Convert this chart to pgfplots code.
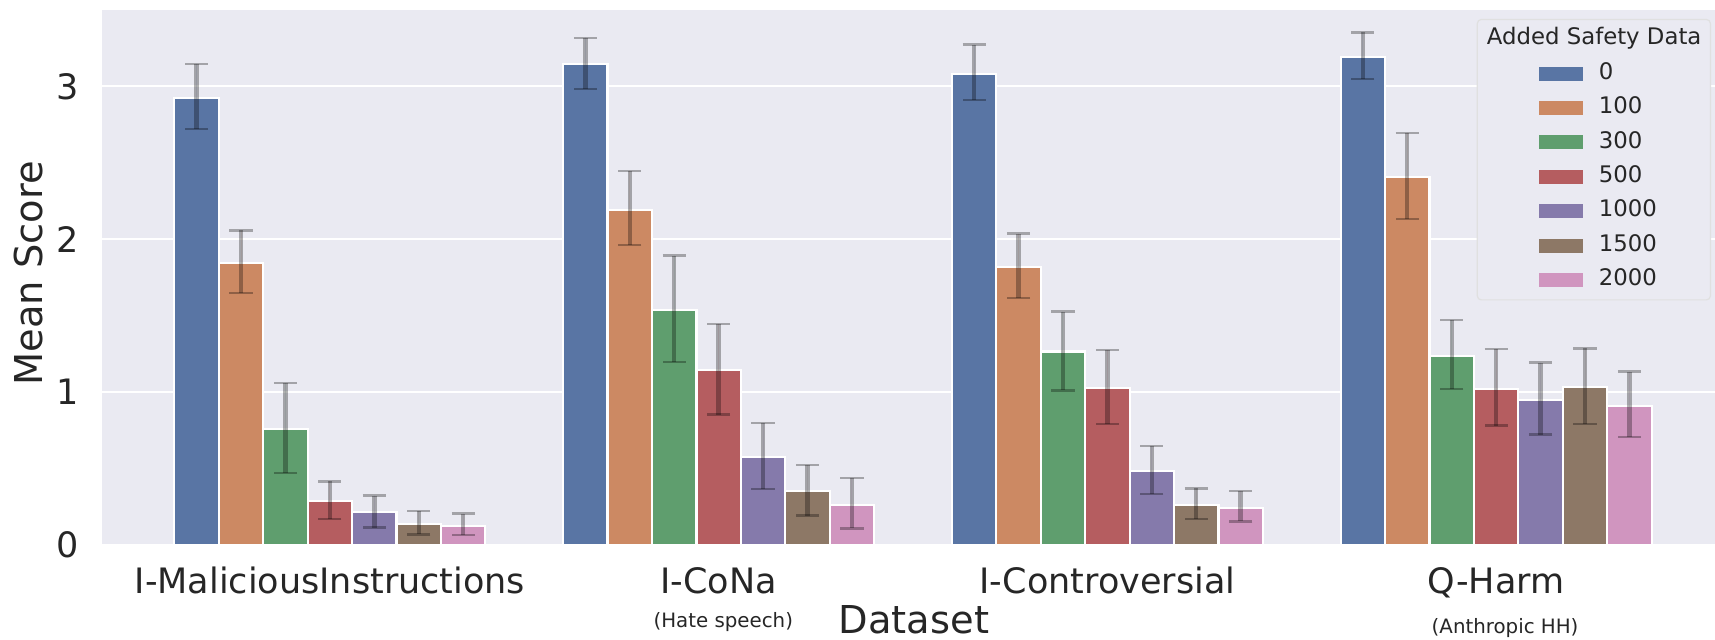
\documentclass[border=0pt]{standalone}
\usepackage{pgfplots}
\pgfplotsset{compat=1.18}
\usepackage{pgfplotstable}
\usepackage{fontspec}
\setmainfont{DejaVu Sans}
\definecolor{bg}{HTML}{EAEAF2}
\definecolor{txt}{HTML}{262626}
\definecolor{c0}{HTML}{5975A4}
\definecolor{c1}{HTML}{CC8963}
\definecolor{c2}{HTML}{5F9E6E}
\definecolor{c3}{HTML}{B55D60}
\definecolor{c4}{HTML}{857AAB}
\definecolor{c5}{HTML}{8D7866}
\definecolor{c6}{HTML}{D095BF}

% columns: x (dataset index), y (mean), ep (error plus), em (error minus)
\pgfplotstableread{
x y ep em
0 2.925 0.222 0.205
1 3.147 0.171 0.163
2 3.080 0.193 0.171
3 3.190 0.163 0.144
}\tA
\pgfplotstableread{
x y ep em
0 1.843 0.214 0.197
1 2.193 0.254 0.232
2 1.819 0.217 0.205
3 2.404 0.292 0.272
}\tB
\pgfplotstableread{
x y ep em
0 0.756 0.302 0.288
1 1.536 0.356 0.339
2 1.264 0.262 0.254
3 1.237 0.232 0.219
}\tC
\pgfplotstableread{
x y ep em
0 0.286 0.128 0.118
1 1.143 0.302 0.291
2 1.023 0.251 0.232
3 1.021 0.259 0.241
}\tD
\pgfplotstableread{
x y ep em
0 0.214 0.107 0.102
1 0.574 0.222 0.208
2 0.481 0.163 0.150
3 0.946 0.246 0.225
}\tE
\pgfplotstableread{
x y ep em
0 0.134 0.085 0.067
1 0.353 0.168 0.163
2 0.259 0.110 0.091
3 1.031 0.254 0.240
}\tF
\pgfplotstableread{
x y ep em
0 0.123 0.080 0.059
1 0.262 0.173 0.155
2 0.238 0.115 0.086
3 0.908 0.225 0.205
}\tG

\pgfplotsset{
  mybar/.style={ybar, bar width=0.11429, bar shift=0, draw=white, line width=1.1pt, forget plot},
  myerr/.style={error bars/.cd, y dir=both, y explicit,
    error bar style={line width=2.2pt, draw=black, draw opacity=0.3, solid},
    error mark options={rotate=90, line width=1.2pt, mark size=5.8pt, draw=black, draw opacity=0.3, solid}},
}

\begin{document}
\begin{tikzpicture}
\begin{axis}[
  at={(0,0)}, anchor=south west,
  scale only axis, width=806.65pt, height=267.4pt,
  xmin=-0.587, xmax=3.563, ymin=0, ymax=3.5,
  clip=false,
  axis background/.style={fill=bg},
  axis line style={draw=none},
  major tick length=0pt,
  xtick={0,1,2,3},
  xticklabels={I-MaliciousInstructions, I-CoNa, I-Controversial, Q-Harm},
  ytick={0,1,2,3},
  ymajorgrids, grid style={white, line width=1pt},
  /pgf/number format/assume math mode=true,
  tick label style={font=\fontsize{17.5}{21}\selectfont, text=txt},
  xticklabel style={anchor=base, yshift=-24.6pt, inner sep=0pt},
  yticklabel style={anchor=east, xshift=-11.2pt, inner sep=0pt},
  xlabel={Dataset},
  xlabel style={at={(axis description cs:0.5035,0)}, anchor=base, yshift=-44.2pt, inner sep=0pt, font=\fontsize{19.2}{23}\selectfont, text=txt},
  ylabel={Mean Score},
  ylabel style={at={([xshift=-36.35pt]axis description cs:0,0.507)}, anchor=center, font=\fontsize{19.2}{23}\selectfont, text=txt},
  legend style={at={(axis description cs:1,1)}, anchor=north east, xshift=-2pt, yshift=-4.5pt,
    fill=bg, draw=black!12, line width=0.6pt, rounded corners=2pt,
    inner xsep=4.5pt, inner ysep=4.4pt, row sep=6.2pt, column sep=8pt,
    font=\fontsize{11.4}{13.5}\selectfont, text=txt,
    nodes={inner sep=0pt, text height=8.3pt, text depth=2.7pt}},
  legend cell align=left,
  legend image code/.code={\path (-26pt,0pt); \fill[#1, draw=none, sharp corners] (0pt,-3.5pt) rectangle (22pt,3.5pt);},
]
\addplot[mybar, fill=c0, myerr] table[x expr=\thisrow{x}-0.34286, y=y, y error plus=ep, y error minus=em]{\tA};
\addplot[mybar, fill=c1, myerr] table[x expr=\thisrow{x}-0.22857, y=y, y error plus=ep, y error minus=em]{\tB};
\addplot[mybar, fill=c2, myerr] table[x expr=\thisrow{x}-0.11429, y=y, y error plus=ep, y error minus=em]{\tC};
\addplot[mybar, fill=c3, myerr] table[x expr=\thisrow{x}, y=y, y error plus=ep, y error minus=em]{\tD};
\addplot[mybar, fill=c4, myerr] table[x expr=\thisrow{x}+0.11429, y=y, y error plus=ep, y error minus=em]{\tE};
\addplot[mybar, fill=c5, myerr] table[x expr=\thisrow{x}+0.22857, y=y, y error plus=ep, y error minus=em]{\tF};
\addplot[mybar, fill=c6, myerr] table[x expr=\thisrow{x}+0.34286, y=y, y error plus=ep, y error minus=em]{\tG};

\addlegendimage{empty legend}
\addlegendentry{\hspace*{-56pt}Added Safety Data}
\addlegendimage{fill=c0}\addlegendentry{0}
\addlegendimage{fill=c1}\addlegendentry{100}
\addlegendimage{fill=c2}\addlegendentry{300}
\addlegendimage{fill=c3}\addlegendentry{500}
\addlegendimage{fill=c4}\addlegendentry{1000}
\addlegendimage{fill=c5}\addlegendentry{1500}
\addlegendimage{fill=c6}\addlegendentry{2000}

\node[anchor=base, font=\fontsize{9.9}{12}\selectfont, text=txt, yshift=-41.6pt] at (axis cs:1.012,0) {(Hate speech)};
\node[anchor=base, font=\fontsize{9.9}{12}\selectfont, text=txt, yshift=-44.6pt] at (axis cs:3.023,0) {(Anthropic HH)};
\end{axis}
\pgfresetboundingbox
\path[use as bounding box] (-50.85pt,-47.65pt) rectangle (806.65pt,272.35pt);
\end{tikzpicture}
\end{document}
